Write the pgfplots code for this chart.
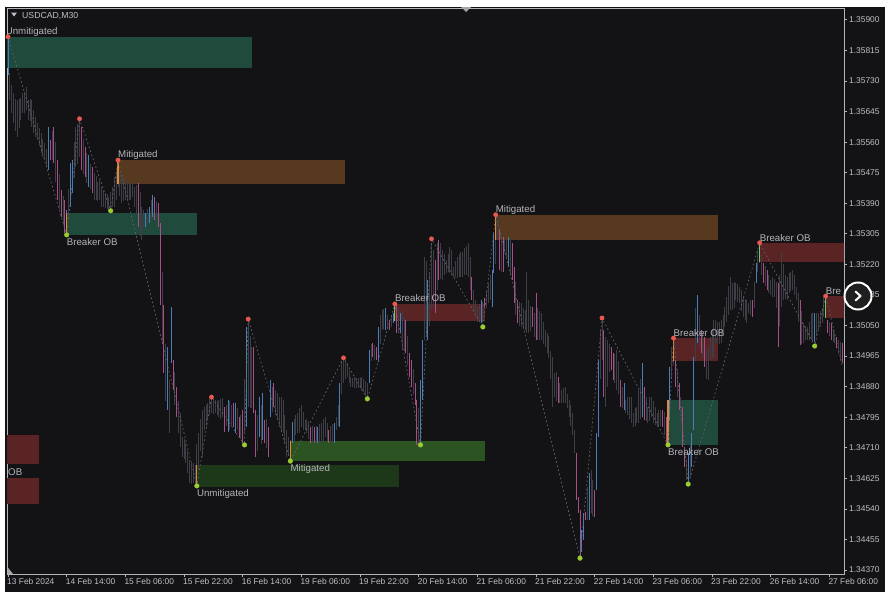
\documentclass[border=0pt]{standalone}
\usepackage{fontspec}
\setmainfont{Liberation Sans}
\usepackage{pgfplots}
\usepackage{pgfplotstable}
\pgfplotsset{compat=1.18}

\definecolor{panel}{HTML}{131316}
\definecolor{frameline}{HTML}{B4B4BC}
\definecolor{ticktext}{HTML}{BEBEC4}
\definecolor{barGray}{HTML}{3E3E46}
\definecolor{barBlue}{HTML}{4A7EB8}
\definecolor{barPink}{HTML}{A84F8A}
\definecolor{obOrange}{HTML}{E08A3C}
\definecolor{obGreen}{HTML}{7CC36A}
\definecolor{zoneTeal}{HTML}{1F4A3C}
\definecolor{zoneBrown}{HTML}{56391F}
\definecolor{zoneRed}{HTML}{5A2324}
\definecolor{zoneGreen}{HTML}{2C5423}
\definecolor{zoneDark}{HTML}{1D3818}
\definecolor{dotRed}{HTML}{E8584E}
\definecolor{dotGreen}{HTML}{9ACD32}
\definecolor{zigzag}{HTML}{66666A}

% bar index, low, high
\pgfplotstableread{
i lo hi
1 1.35677 1.35752
2 1.35640 1.35720
3 1.35613 1.35696
4 1.35590 1.35680
5 1.35574 1.35677
6 1.35600 1.35680
7 1.35621 1.35683
8 1.35641 1.35696
9 1.35640 1.35700
10 1.35649 1.35713
11 1.35621 1.35677
12 1.35620 1.35680
13 1.35602 1.35677
14 1.35585 1.35650
15 1.35574 1.35630
16 1.35566 1.35613
17 1.35550 1.35600
18 1.35530 1.35586
19 1.35520 1.35570
20 1.35510 1.35558
21 1.35495 1.35540
24 1.35510 1.35590
26 1.35450 1.35560
28 1.35375 1.35470
30 1.35330 1.35410
33 1.35340 1.35430
36 1.35460 1.35560
37 1.35491 1.35602
38 1.35500 1.35610
39 1.35519 1.35621
41 1.35470 1.35570
43 1.35445 1.35530
45 1.35430 1.35500
47 1.35399 1.35474
48 1.35400 1.35465
49 1.35395 1.35450
50 1.35399 1.35455
51 1.35380 1.35435
52 1.35380 1.35425
53 1.35377 1.35419
54 1.35375 1.35415
55 1.35371 1.35408
56 1.35375 1.35420
57 1.35380 1.35435
58 1.35380 1.35463
59 1.35400 1.35480
60 1.35435 1.35510
61 1.35410 1.35480
62 1.35391 1.35474
63 1.35395 1.35460
64 1.35399 1.35455
65 1.35400 1.35450
66 1.35399 1.35446
67 1.35400 1.35445
68 1.35408 1.35446
69 1.35380 1.35435
70 1.35360 1.35440
72 1.35300 1.35420
73 1.35288 1.35380
74 1.35320 1.35370
76 1.35330 1.35375
78 1.35340 1.35400
81 1.35335 1.35395
84 1.35000 1.35200
86 1.34840 1.35000
88 1.34751 1.34899
91 1.34830 1.34920
93 1.34750 1.34840
94 1.34712 1.34807
95 1.34684 1.34740
96 1.34680 1.34735
97 1.34668 1.34723
98 1.34640 1.34700
99 1.34612 1.34676
100 1.34610 1.34670
101 1.34612 1.34668
102 1.34604 1.34662
103 1.34640 1.34720
104 1.34648 1.34751
105 1.34700 1.34790
106 1.34684 1.34815
107 1.34759 1.34824
108 1.34770 1.34830
109 1.34787 1.34835
110 1.34800 1.34845
111 1.34807 1.34851
112 1.34805 1.34845
113 1.34807 1.34843
114 1.34800 1.34840
115 1.34796 1.34843
116 1.34790 1.34845
117 1.34796 1.34849
119 1.34770 1.34830
121 1.34760 1.34840
122 1.34770 1.34830
125 1.34760 1.34820
127 1.34735 1.34800
129 1.34750 1.34900
131 1.34824 1.35065
132 1.34820 1.35020
133 1.34820 1.34990
136 1.34700 1.34800
138 1.34720 1.34830
141 1.34710 1.34790
144 1.34810 1.34880
146 1.34800 1.34870
147 1.34787 1.34862
148 1.34768 1.34851
149 1.34760 1.34850
150 1.34751 1.34843
151 1.34720 1.34800
152 1.34684 1.34759
153 1.34690 1.34740
154 1.34673 1.34732
156 1.34730 1.34790
157 1.34745 1.34800
158 1.34751 1.34807
159 1.34750 1.34820
160 1.34768 1.34829
161 1.34760 1.34810
162 1.34759 1.34787
163 1.34750 1.34790
164 1.34735 1.34785
166 1.34725 1.34770
168 1.34725 1.34770
170 1.34725 1.34775
171 1.34723 1.34779
172 1.34730 1.34790
173 1.34740 1.34796
174 1.34730 1.34780
176 1.34725 1.34770
177 1.34725 1.34775
179 1.34759 1.34796
180 1.34770 1.34830
182 1.34860 1.34950
183 1.34890 1.34954
184 1.34900 1.34950
185 1.34907 1.34946
186 1.34890 1.34925
187 1.34879 1.34907
188 1.34880 1.34905
189 1.34876 1.34907
190 1.34875 1.34905
191 1.34876 1.34904
192 1.34875 1.34905
193 1.34871 1.34907
194 1.34865 1.34900
195 1.34855 1.34895
196 1.34851 1.34890
198 1.34950 1.35000
200 1.34955 1.34995
203 1.35000 1.35080
204 1.35038 1.35093
205 1.35040 1.35095
207 1.35040 1.35080
209 1.35045 1.35080
211 1.35063 1.35110
213 1.35030 1.35100
215 1.34982 1.35093
216 1.34980 1.35075
218 1.34940 1.35020
221 1.34860 1.34930
224 1.34720 1.34820
227 1.35010 1.35241
228 1.35020 1.35230
230 1.35050 1.35200
231 1.35093 1.35280
232 1.35100 1.35260
234 1.35150 1.35280
236 1.35180 1.35280
237 1.35177 1.35260
238 1.35190 1.35250
239 1.35196 1.35232
240 1.35200 1.35250
241 1.35196 1.35268
242 1.35190 1.35260
243 1.35185 1.35213
244 1.35185 1.35230
245 1.35182 1.35241
246 1.35185 1.35250
247 1.35185 1.35255
248 1.35185 1.35255
249 1.35190 1.35265
250 1.35190 1.35270
251 1.35185 1.35280
252 1.35150 1.35240
254 1.35090 1.35150
255 1.35074 1.35121
256 1.35060 1.35102
257 1.35060 1.35110
259 1.35060 1.35115
261 1.35100 1.35150
262 1.35113 1.35168
263 1.35120 1.35190
266 1.35220 1.35340
267 1.35288 1.35358
269 1.35200 1.35310
271 1.35252 1.35288
272 1.35240 1.35290
274 1.35190 1.35290
277 1.35080 1.35170
279 1.35050 1.35115
280 1.35046 1.35113
281 1.35040 1.35100
282 1.35038 1.35093
283 1.35029 1.35199
284 1.35030 1.35120
285 1.35035 1.35105
287 1.35018 1.35085
289 1.35010 1.35100
290 1.35010 1.35090
291 1.35010 1.35085
292 1.35000 1.35060
293 1.34990 1.35038
294 1.34974 1.35029
295 1.34960 1.35020
296 1.34900 1.34980
297 1.34824 1.34963
298 1.34851 1.34918
299 1.34840 1.34920
301 1.34835 1.34890
302 1.34835 1.34871
303 1.34835 1.34875
304 1.34835 1.34879
305 1.34820 1.34860
306 1.34796 1.34843
307 1.34770 1.34830
308 1.34746 1.34807
309 1.34696 1.34759
316 1.34510 1.34600
318 1.34528 1.34648
319 1.34520 1.34620
323 1.34900 1.35040
324 1.34954 1.35065
326 1.34824 1.35018
327 1.34880 1.35010
328 1.34920 1.35000
331 1.34890 1.34970
332 1.34871 1.34982
333 1.34860 1.34950
335 1.34820 1.34880
337 1.34807 1.34843
338 1.34800 1.34850
339 1.34790 1.34850
340 1.34779 1.34851
341 1.34768 1.34807
342 1.34770 1.34820
343 1.34779 1.34824
344 1.34780 1.34870
345 1.34790 1.34900
348 1.34785 1.34850
349 1.34779 1.34824
350 1.34785 1.34850
351 1.34796 1.34851
352 1.34780 1.34840
353 1.34773 1.34824
354 1.34768 1.34807
355 1.34770 1.34815
356 1.34770 1.34815
358 1.34745 1.34810
360 1.34718 1.34843
362 1.34900 1.34990
363 1.34940 1.35010
365 1.34850 1.34930
367 1.34760 1.34850
370 1.34620 1.34680
372 1.34630 1.34720
375 1.34950 1.35100
377 1.34990 1.35080
379 1.34960 1.35030
381 1.34900 1.34990
382 1.34899 1.34990
383 1.34954 1.35018
384 1.34960 1.35040
385 1.34963 1.35065
386 1.35001 1.35065
387 1.35000 1.35060
388 1.35000 1.35060
389 1.35001 1.35065
390 1.35020 1.35080
391 1.35046 1.35102
392 1.35060 1.35130
393 1.35080 1.35160
394 1.35093 1.35185
395 1.35093 1.35168
396 1.35100 1.35170
397 1.35121 1.35168
398 1.35115 1.35165
399 1.35113 1.35157
400 1.35090 1.35150
401 1.35074 1.35129
402 1.35065 1.35125
403 1.35057 1.35121
404 1.35085 1.35113
405 1.35080 1.35120
407 1.35100 1.35170
409 1.35200 1.35260
410 1.35224 1.35280
411 1.35190 1.35250
413 1.35160 1.35215
415 1.35140 1.35190
416 1.35135 1.35177
417 1.35129 1.35185
418 1.35130 1.35180
419 1.35100 1.35170
421 1.35050 1.35190
422 1.35102 1.35252
423 1.35120 1.35220
424 1.35125 1.35190
425 1.35121 1.35185
426 1.35140 1.35196
427 1.35145 1.35200
428 1.35149 1.35204
429 1.35135 1.35190
430 1.35121 1.35157
431 1.35060 1.35140
433 1.35000 1.35090
434 1.35001 1.35057
435 1.35010 1.35050
436 1.35010 1.35046
437 1.35010 1.35060
438 1.35010 1.35085
439 1.35005 1.35085
441 1.35020 1.35085
442 1.35038 1.35085
443 1.35045 1.35090
444 1.35057 1.35099
445 1.35074 1.35129
448 1.35020 1.35060
450 1.35005 1.35040
451 1.35001 1.35029
453 1.34970 1.35010
454 1.34950 1.35005
}\graybars

\pgfplotstableread{
i lo hi
0 1.35747 1.35853
22 1.35483 1.35602
32 1.35302 1.35371
34 1.35380 1.35502
35 1.35419 1.35510
44 1.35435 1.35524
75 1.35324 1.35363
77 1.35335 1.35380
79 1.35352 1.35413
87 1.34815 1.34990
89 1.34946 1.35102
120 1.34754 1.34843
124 1.34751 1.34835
130 1.34768 1.35046
137 1.34740 1.34851
139 1.34732 1.34862
143 1.34796 1.34899
155 1.34723 1.34782
169 1.34723 1.34768
178 1.34723 1.34779
181 1.34768 1.34890
197 1.34890 1.34982
202 1.34949 1.35046
206 1.35038 1.35099
210 1.35057 1.35085
214 1.35029 1.35085
225 1.34718 1.34899
226 1.34843 1.35010
229 1.35010 1.35177
258 1.35057 1.35121
264 1.35102 1.35204
265 1.35196 1.35307
273 1.35213 1.35296
313 1.34420 1.34480
314 1.34454 1.34528
317 1.34509 1.34640
321 1.34593 1.34751
322 1.34740 1.34954
336 1.34815 1.34890
346 1.34796 1.34946
361 1.34787 1.34935
371 1.34612 1.34696
373 1.34657 1.34751
374 1.34759 1.34963
376 1.35001 1.35135
408 1.35168 1.35224
440 1.35004 1.35085
}\bluebars

\pgfplotstableread{
i lo hi
23 1.35510 1.35566
25 1.35502 1.35602
27 1.35399 1.35510
29 1.35352 1.35427
31 1.35307 1.35399
40 1.35483 1.35602
42 1.35463 1.35546
46 1.35419 1.35491
71 1.35324 1.35446
80 1.35343 1.35408
82 1.35324 1.35391
83 1.35107 1.35335
85 1.34918 1.35107
90 1.34871 1.34954
92 1.34796 1.34879
118 1.34754 1.34824
123 1.34768 1.34835
126 1.34740 1.34796
128 1.34723 1.34815
134 1.34807 1.34990
135 1.34684 1.34815
140 1.34723 1.34787
142 1.34684 1.34768
145 1.34824 1.34890
165 1.34723 1.34768
167 1.34723 1.34768
175 1.34723 1.34759
199 1.34963 1.35001
201 1.34954 1.34990
208 1.35038 1.35065
212 1.35029 1.35113
217 1.34974 1.35065
219 1.34907 1.34974
220 1.34879 1.34954
222 1.34829 1.34890
223 1.34718 1.34843
233 1.35085 1.35232
235 1.35177 1.35288
253 1.35121 1.35185
260 1.35102 1.35127
268 1.35204 1.35316
270 1.35199 1.35296
275 1.35177 1.35280
276 1.35113 1.35213
278 1.35057 1.35121
286 1.35046 1.35102
288 1.35010 1.35140
300 1.34835 1.34907
310 1.34565 1.34696
311 1.34528 1.34573
312 1.34406 1.34537
315 1.34509 1.34531
320 1.34517 1.34593
325 1.34851 1.35038
329 1.34926 1.34990
330 1.34899 1.34974
334 1.34824 1.34899
347 1.34787 1.34879
357 1.34768 1.34815
359 1.34723 1.34796
364 1.34879 1.34954
366 1.34815 1.34890
368 1.34712 1.34824
369 1.34657 1.34712
378 1.34974 1.35038
380 1.34935 1.35018
406 1.35074 1.35121
412 1.35168 1.35224
414 1.35149 1.35204
420 1.34990 1.35168
432 1.34996 1.35121
447 1.35029 1.35065
449 1.35010 1.35057
452 1.34987 1.35018
455 1.34946 1.35001
}\pinkbars

\pgfplotstableread{
i lo hi
32 1.35302 1.35363
60 1.35444 1.35510
103 1.34601 1.34662
154 1.34673 1.34729
266 1.35288 1.35358
360 1.34718 1.34843
363 1.34951 1.35015
}\orangebars

\pgfplotstableread{
i lo hi
211 1.35063 1.35110
410 1.35227 1.35280
446 1.35071 1.35132
}\greenbars

\newcommand{\zone}[5]{\addplot[fill=#5, draw=none, forget plot] coordinates {(#1,#3)(#2,#3)(#2,#4)(#1,#4)};}
\newcommand{\bars}[3]{\addplot[draw=none, mark=none, forget plot,
    error bars/.cd, y dir=plus, y explicit, error mark=none,
    error bar style={draw=#2, line width=#3}]
  table[x=i, y=lo, y error expr=\thisrow{hi}-\thisrow{lo}] {#1};}
\newcommand{\oblabel}[3]{\node[anchor=base west, inner sep=0pt, yshift=-3.5pt, text=ticktext!115,
  font=\fontsize{9.7}{11}\selectfont] at (axis cs:#1,#2) {#3};}

\begin{document}
\begin{tikzpicture}[x=1pt, y=1pt]
\fill[white] (0,0) rectangle (893,-597);
\fill[panel] (5,-6.5) rectangle (885,-592);
\begin{axis}[
  at={(7pt,-574pt)}, anchor=south west,
  scale only axis, width=837pt, height=566pt,
  axis background/.style={fill=panel},
  xmin=-0.55, xmax=456,
  ymin=1.34359, ymax=1.35933,
  clip=true, clip mode=global,
  axis line style={frameline, line width=1pt},
  tick style={frameline, line width=0.8pt},
  tick align=outside, major tick length=3pt,
  xtick pos=lower, ytick pos=right, yticklabel pos=right,
  xtick={0,32,64,96,128,160,192,224,256,288,320,352,384,416,448},
  xticklabels={13 Feb 2024,14 Feb 14:00,15 Feb 06:00,15 Feb 22:00,16 Feb 14:00,19 Feb 06:00,19 Feb 22:00,20 Feb 14:00,21 Feb 06:00,21 Feb 22:00,22 Feb 14:00,23 Feb 06:00,23 Feb 22:00,26 Feb 14:00,27 Feb 06:00},
  ytick={1.34370,1.34455,1.34540,1.34625,1.34710,1.34795,1.34880,1.34965,1.35050,1.35135,1.35220,1.35305,1.35390,1.35475,1.35560,1.35645,1.35730,1.35815,1.35900},
  scaled y ticks=false,
  yticklabel style={/pgf/number format/fixed, /pgf/number format/fixed zerofill, /pgf/number format/precision=5, /pgf/number format/assume math mode=true, inner sep=0pt, xshift=2pt},
  ticklabel style={text=ticktext, font=\fontsize{8.4}{10}\selectfont},
  xticklabel style={anchor=north west, inner sep=0pt, xshift=-1pt, yshift=-1.5pt},
]
\zone{-1}{133}{1.35766}{1.35853}{zoneTeal}
\zone{60}{184}{1.35444}{1.35510}{zoneBrown}
\zone{32}{103}{1.35302}{1.35363}{zoneTeal}
\zone{266}{387}{1.35288}{1.35358}{zoneBrown}
\zone{211}{260}{1.35063}{1.35110}{zoneRed}
\zone{410}{457}{1.35227}{1.35280}{zoneRed}
\zone{446}{457}{1.35071}{1.35132}{zoneRed}
\zone{363}{387}{1.34951}{1.35015}{zoneRed}
\zone{360}{387}{1.34718}{1.34843}{zoneTeal}
\zone{154}{260}{1.34673}{1.34729}{zoneGreen}
\zone{103}{213}{1.34601}{1.34662}{zoneDark}
\zone{-1}{17}{1.34665}{1.34746}{zoneRed}
\zone{-1}{17}{1.34554}{1.34626}{zoneRed}

\bars{\graybars}{barGray}{1pt}
\bars{\bluebars}{barBlue}{1pt}
\bars{\pinkbars}{barPink}{1pt}
\bars{\orangebars}{obOrange}{1.1pt}
\bars{\greenbars}{obGreen}{1.1pt}

% zigzag through the swing points
\addplot[color=zigzag, line width=0.7pt, dash pattern=on 1.6pt off 2.6pt, forget plot] coordinates {
  (0,1.35853)(32,1.35302)(39,1.35625)(56,1.35369)(60,1.35510)(103,1.34604)
  (111,1.34851)(129,1.34718)(131,1.35068)(154,1.34673)(183,1.34960)(196,1.34846)
  (211,1.35110)(225,1.34718)(231,1.35291)(259,1.35046)(266,1.35358)(312,1.34403)
  (324,1.35071)(360,1.34718)(363,1.35015)(371,1.34609)(410,1.35280)(440,1.34993)
  (446,1.35132)(455,1.34940)
};
\addplot[only marks, mark=*, mark size=2.2pt, color=dotRed, forget plot] coordinates {
  (0,1.35853)(39,1.35625)(60,1.35510)(111,1.34851)(131,1.35068)(183,1.34960)
  (211,1.35110)(231,1.35291)(266,1.35358)(324,1.35071)(363,1.35015)(410,1.35280)(446,1.35132)
};
\addplot[only marks, mark=*, mark size=2.3pt, color=dotGreen, forget plot] coordinates {
  (32,1.35302)(56,1.35369)(103,1.34604)(129,1.34718)(154,1.34673)(196,1.34846)
  (225,1.34718)(259,1.35046)(312,1.34403)(360,1.34718)(371,1.34609)(440,1.34993)
};

\oblabel{-1.3}{1.35869}{Unmitigated}
\oblabel{60}{1.35527}{Mitigated}
\oblabel{32}{1.35282}{Breaker OB}
\oblabel{103}{1.34584}{Unmitigated}
\oblabel{154}{1.34654}{Mitigated}
\oblabel{211}{1.35127}{Breaker OB}
\oblabel{266}{1.35374}{Mitigated}
\oblabel{363}{1.35029}{Breaker OB}
\oblabel{360}{1.34698}{Breaker OB}
\oblabel{410}{1.35294}{Breaker OB}
\oblabel{446}{1.35146}{Bre}
\oblabel{0}{1.34643}{OB}
\end{axis}
% terminal furniture
\fill[ticktext] (11,-12.5) -- (17,-12.5) -- (14,-16.5) -- cycle;
\node[anchor=base west, inner sep=0pt, text=ticktext, font=\fontsize{8.7}{10}\selectfont] at (22,-18.5) {USDCAD,M30};
\fill[gray!70] (461,-7) -- (471,-7) -- (466,-12) -- cycle;
\fill[gray!70] (7.5,-574) -- (7.5,-567) -- (13,-574) -- cycle;
\draw[white, line width=2pt, fill=black!88] (858,-296) circle (13.5);
\draw[white, line width=2pt, line cap=round, line join=round] (855.5,-291.5) -- (860.5,-296) -- (855.5,-300.5);
\pgfresetboundingbox
\path[use as bounding box] (0,0) rectangle (893,-597);
\end{tikzpicture}
\end{document}
